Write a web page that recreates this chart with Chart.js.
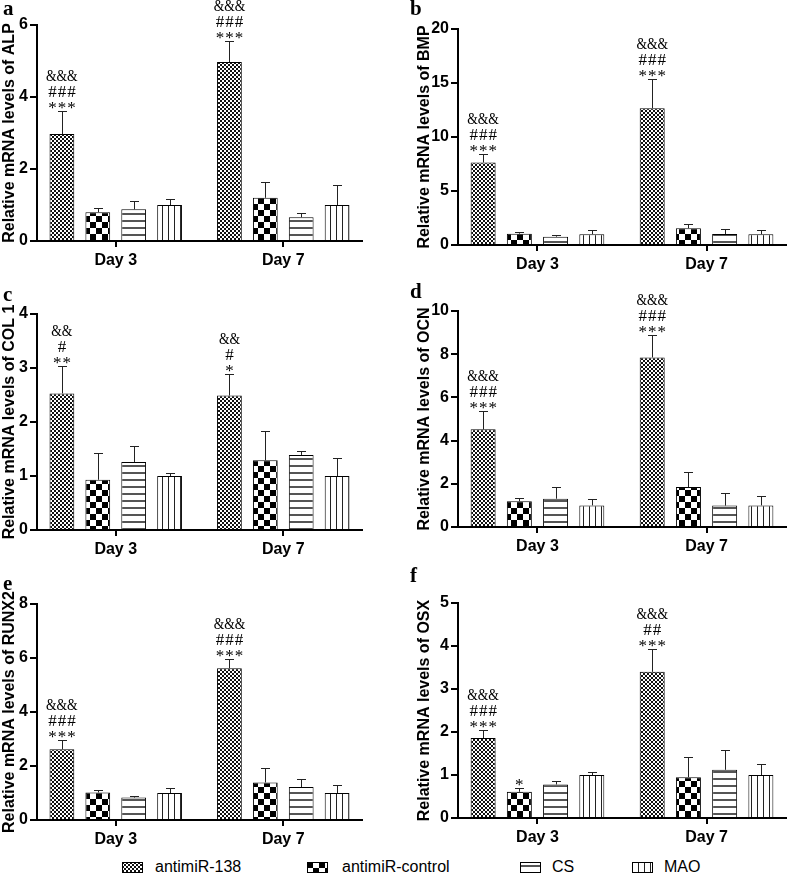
<!DOCTYPE html>
<html><head><meta charset="utf-8">
<script src="https://cdn.jsdelivr.net/npm/chart.js@4.4.1/dist/chart.umd.min.js"></script>
<style>
html,body{margin:0;padding:0;background:#fff;}
body{width:787px;height:882px;position:relative;overflow:hidden;font-family:"Liberation Sans",Arial,sans-serif;}
canvas.panel{position:absolute;}
.plabel{position:absolute;font:bold 21px "Liberation Serif","Times New Roman",serif;line-height:21px;color:#000;}
.legtext{position:absolute;font:16px "Liberation Sans",Arial,sans-serif;line-height:18px;color:#000;white-space:nowrap;}
.legsw{position:absolute;}
</style></head><body>
<script>
// ---------- DATA ----------
const categories = ['Day 3', 'Day 7'];
const groups = ['antimiR-138', 'antimiR-control', 'CS', 'MAO'];

// ALP (a)
const alpMean = [[2.97, 4.97], [0.80, 1.20], [0.88, 0.66], [1.00, 1.00]];
const alpSD   = [[0.63, 0.58], [0.13, 0.44], [0.22, 0.11], [0.18, 0.55]];
const alpTicks = [0, 2, 4, 6];
const alpSig = [[['***','###','&&&'], ['***','###','&&&']], [[], []], [[], []], [[], []]];

// BMP (b)
const bmpMean = [[7.64, 12.67], [1.05, 1.55], [0.77, 1.02], [1.00, 1.00]];
const bmpSD   = [[0.76, 2.73], [0.12, 0.40], [0.16, 0.49], [0.39, 0.39]];
const bmpTicks = [0, 5, 10, 15, 20];
const bmpSig = [[['***','###','&&&'], ['***','###','&&&']], [[], []], [[], []], [[], []]];

// COL 1 (c)
const colMean = [[2.53, 2.49], [0.93, 1.29], [1.26, 1.39], [1.00, 1.00]];
const colSD   = [[0.50, 0.39], [0.50, 0.54], [0.30, 0.08], [0.06, 0.34]];
const colTicks = [0, 1, 2, 3, 4];
const colSig = [[['**','#','&&'], ['*','#','&&']], [[], []], [[], []], [[], []]];

// OCN (d)
const ocnMean = [[4.52, 7.85], [1.19, 1.85], [1.31, 0.99], [1.00, 1.00]];
const ocnSD   = [[0.87, 1.02], [0.17, 0.71], [0.56, 0.58], [0.28, 0.44]];
const ocnTicks = [0, 2, 4, 6, 8, 10];
const ocnSig = [[['***','###','&&&'], ['***','###','&&&']], [[], []], [[], []], [[], []]];

// RUNX2 (e)
const runxMean = [[2.62, 5.62], [1.02, 1.39], [0.83, 1.22], [1.00, 1.00]];
const runxSD   = [[0.36, 0.36], [0.08, 0.52], [0.05, 0.30], [0.19, 0.31]];
const runxTicks = [0, 2, 4, 6, 8];
const runxSig = [[['***','###','&&&'], ['***','###','&&&']], [[], []], [[], []], [[], []]];

// OSX (f)
const osxMean = [[1.86, 3.40], [0.61, 0.95], [0.78, 1.12], [1.00, 1.00]];
const osxSD   = [[0.18, 0.54], [0.08, 0.48], [0.09, 0.47], [0.07, 0.26]];
const osxTicks = [0, 1, 2, 3, 4, 5];
const osxSig = [[['***','###','&&&'], ['***','##','&&&']], [['*'], []], [[], []], [[], []]];

// ---------- LAYOUT ----------
const panels = [
  {letter:'a', gene:'ALP',   mean:alpMean,  sd:alpSD,  ticks:alpTicks,  sig:alpSig,  cv:{left:0,top:0,width:375},   area:{l:37,t:25,r:362,b:241},  lab:{x:3,y:15}},
  {letter:'b', gene:'BMP',   mean:bmpMean,  sd:bmpSD,  ticks:bmpTicks,  sig:bmpSig,  cv:{left:415,top:0,width:372}, area:{l:458,t:29,r:786,b:245}, lab:{x:410,y:15}},
  {letter:'c', gene:'COL 1', mean:colMean,  sd:colSD,  ticks:colTicks,  sig:colSig,  cv:{left:0,top:280,width:375}, area:{l:37,t:314,r:362,b:530}, lab:{x:3,y:301}},
  {letter:'d', gene:'OCN',   mean:ocnMean,  sd:ocnSD,  ticks:ocnTicks,  sig:ocnSig,  cv:{left:415,top:280,width:372}, area:{l:458,t:311,r:786,b:527}, lab:{x:410,y:298}},
  {letter:'e', gene:'RUNX2', mean:runxMean, sd:runxSD, ticks:runxTicks, sig:runxSig, cv:{left:0,top:565,width:375}, area:{l:37,t:604,r:362,b:820}, lab:{x:3,y:590}},
  {letter:'f', gene:'OSX',   mean:osxMean,  sd:osxSD,  ticks:osxTicks,  sig:osxSig,  cv:{left:415,top:565,width:372}, area:{l:458,t:603,r:786,b:818}, lab:{x:410,y:582}}
];

// ---------- PATTERNS ----------
function makePattern(kind, ctxRef) {
  const c = document.createElement('canvas');
  const g = c.getContext('2d');
  if (kind === 'fine') {
    c.width = 4; c.height = 4;
    g.fillStyle = '#fff'; g.fillRect(0,0,4,4);
    g.fillStyle = '#111'; g.fillRect(0,0,2,2); g.fillRect(2,2,2,2);
  } else if (kind === 'coarse') {
    c.width = 12; c.height = 12;
    g.fillStyle = '#fff'; g.fillRect(0,0,12,12);
    g.fillStyle = '#000'; g.fillRect(0,0,6,6); g.fillRect(6,6,6,6);
  } else if (kind === 'hlines') {
    c.width = 4; c.height = 7;
    g.fillStyle = '#fff'; g.fillRect(0,0,4,7);
    g.fillStyle = '#555'; g.fillRect(0,3,4,2);
  } else {
    c.width = 6; c.height = 4;
    g.fillStyle = '#fff'; g.fillRect(0,0,6,4);
    g.fillStyle = '#222'; g.fillRect(0,0,1,4);
  }
  return ctxRef.createPattern(c, 'repeat');
}
const patternKinds = ['fine', 'coarse', 'hlines', 'vlines'];

const FONT = '"Liberation Sans", Arial, sans-serif';

function drawSigLine(ctx, text, cx, baseY) {
  const adv = text[0] === '&' ? 10.5 : 9.5;
  const n = text.length;
  for (let j = 0; j < n; j++) {
    const x = cx + (j - (n - 1) / 2) * adv;
    ctx.save();
    ctx.translate(x, baseY);
    if (text[j] === '&') ctx.scale(0.8, 1);
    ctx.fillText(text[j], 0, 0);
    ctx.restore();
  }
}

function decorPlugin(p) {
  return {
    id: 'decor' + p.letter,
    afterDatasetsDraw(chart) {
      const ctx = chart.ctx, ys = chart.scales.y;
      ctx.save();
      chart.data.datasets.forEach((ds, di) => {
        const meta = chart.getDatasetMeta(di);
        meta.data.forEach((bar, i) => {
          const m = p.mean[di][i], s = p.sd[di][i];
          const yTop = Math.round(ys.getPixelForValue(m + s)) + 0.5;
          const yv = ys.getPixelForValue(m);
          const x = Math.round(bar.x) + 0.5;
          ctx.strokeStyle = '#222'; ctx.lineWidth = 1;
          ctx.beginPath();
          ctx.moveTo(x, yv); ctx.lineTo(x, yTop);
          ctx.moveTo(x - 4.5, yTop); ctx.lineTo(x + 4.5, yTop);
          ctx.stroke();
          const sig = p.sig[di][i];
          ctx.fillStyle = '#000';
          ctx.font = '17px "Liberation Serif", "Times New Roman", serif';
          ctx.textAlign = 'center'; ctx.textBaseline = 'alphabetic';
          sig.forEach((t, k) => drawSigLine(ctx, t, bar.x, yTop + 1 - k * 16));
        });
      });
      ctx.restore();
    }
  };
}

panels.forEach(p => {
  const H = p.area.b + 34 - p.cv.top;
  const cv = document.createElement('canvas');
  cv.className = 'panel';
  cv.width = p.cv.width; cv.height = H;
  cv.style.left = p.cv.left + 'px'; cv.style.top = p.cv.top + 'px';
  cv.style.width = p.cv.width + 'px'; cv.style.height = H + 'px';
  document.body.appendChild(cv);
  const ctx = cv.getContext('2d');

  const lab = document.createElement('div');
  lab.className = 'plabel';
  lab.textContent = p.letter;
  lab.style.left = p.lab.x + 'px';
  lab.style.top = (p.lab.y - 17) + 'px';
  document.body.appendChild(lab);

  const datasets = groups.map((g, gi) => ({
    label: g,
    data: categories.map((c, ci) => ({ x: ci, y: p.mean[gi][ci] })),
    backgroundColor: makePattern(patternKinds[gi], ctx),
    borderColor: '#000',
    borderWidth: 1,
    categoryPercentage: 0.857,
    barPercentage: 0.69
  }));

  const yScaleW = p.area.l - p.cv.left;
  const xScaleH = p.cv.top + H - p.area.b;
  new Chart(cv, {
    type: 'bar',
    data: { datasets },
    options: {
      responsive: false,
      animation: false,
      devicePixelRatio: 1,
      layout: { padding: { left: 0, top: p.area.t - p.cv.top, right: p.cv.left + p.cv.width - p.area.r, bottom: 0 } },
      plugins: { legend: { display: false }, tooltip: { enabled: false } },
      scales: {
        x: {
          type: 'linear',
          min: -0.47, max: 1.47,
          offset: false,
          afterBuildTicks: s => { s.ticks = categories.map((c, i) => ({ value: i })); },
          afterFit: s => { s.height = xScaleH; },
          ticks: {
            callback: v => categories[v],
            font: { family: FONT, size: 16, weight: 'bold' },
            color: '#000', padding: 4, maxRotation: 0, autoSkip: false
          },
          grid: { offset: false, drawOnChartArea: false, drawTicks: true, tickLength: 6, color: '#000', lineWidth: 2 },
          border: { display: true, color: '#000', width: 2 }
        },
        y: {
          min: p.ticks[0], max: p.ticks[p.ticks.length - 1],
          afterFit: s => { s.width = yScaleW; },
          afterBuildTicks: s => { s.ticks = p.ticks.map(v => ({ value: v })); },
          ticks: {
            font: { family: FONT, size: 16, weight: 'bold' },
            color: '#000', padding: 2
          },
          grid: { drawOnChartArea: false, drawTicks: true, tickLength: 7, color: '#000', lineWidth: 2 },
          border: { display: true, color: '#000', width: 2 },
          title: {
            display: true, text: 'Relative mRNA levels of ' + p.gene,
            font: { family: FONT, size: 16, weight: 'bold' }, color: '#000', padding: 0
          }
        }
      }
    },
    plugins: [decorPlugin(p)]
  });
});

// ---------- LEGEND ----------
const legendPos = [[122, 155], [307, 342], [520, 552], [632, 664]];
const legendY = 867;
groups.forEach((g, gi) => {
  const sw = document.createElement('canvas');
  sw.className = 'legsw';
  sw.width = 21; sw.height = 11;
  sw.style.left = legendPos[gi][0] + 'px';
  sw.style.top = (legendY - 5) + 'px';
  document.body.appendChild(sw);
  const sc = sw.getContext('2d');
  sc.fillStyle = makePattern(patternKinds[gi], sc);
  sc.fillRect(0, 0, 21, 11);
  sc.strokeStyle = '#000'; sc.lineWidth = 1;
  sc.strokeRect(0.5, 0.5, 20, 10);
  const t = document.createElement('div');
  t.className = 'legtext';
  t.textContent = g;
  t.style.left = legendPos[gi][1] + 'px';
  t.style.top = (legendY - 9) + 'px';
  document.body.appendChild(t);
});
</script>
</body></html>
